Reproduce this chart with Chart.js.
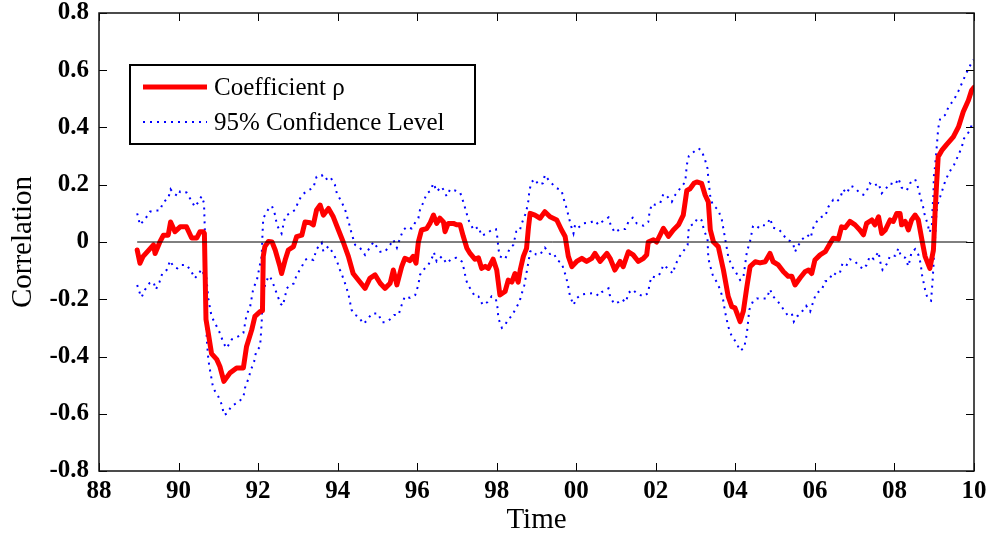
<!DOCTYPE html>
<html>
<head>
<meta charset="utf-8">
<title>Correlation</title>
<script src="https://cdn.jsdelivr.net/npm/chart.js@4.4.0/dist/chart.umd.min.js"></script>
<style>
  body { margin: 0; background: #fff; }
  canvas { display: block; }
</style>
</head>
<body>
<canvas id="myChart" width="992" height="540"></canvas>
<script>
// tick labels
var xTickLabels = ['88', '90', '92', '94', '96', '98', '00', '02', '04', '06', '08', '10'];
var yTickLabels = ['-0.8', '-0.6', '-0.4', '-0.2', '0', '0.2', '0.4', '0.6', '0.8'];

// coefficient rho (x = year, 88 = 1988)
var rhoX = [88.96, 89.03, 89.11, 89.24, 89.37, 89.41, 89.53, 89.62, 89.74, 89.80, 89.91, 90.04, 90.20, 90.33, 90.46, 90.54, 90.62, 90.65, 90.69, 90.75,
    90.83, 90.96, 91.04, 91.14, 91.29, 91.46, 91.63, 91.71, 91.84, 91.92, 92.05, 92.11, 92.13, 92.17, 92.26, 92.35, 92.43, 92.55, 92.59, 92.68,
    92.76, 92.89, 92.97, 93.10, 93.18, 93.31, 93.39, 93.47, 93.56, 93.64, 93.77, 93.89, 94.02, 94.14, 94.27, 94.39, 94.52, 94.69, 94.81, 94.94,
    95.07, 95.19, 95.32, 95.40, 95.49, 95.61, 95.69, 95.82, 95.90, 95.97, 96.03, 96.11, 96.24, 96.32, 96.41, 96.49, 96.57, 96.66, 96.70, 96.78,
    96.91, 96.99, 97.08, 97.16, 97.25, 97.33, 97.45, 97.54, 97.62, 97.71, 97.79, 97.91, 98.00, 98.08, 98.21, 98.29, 98.38, 98.46, 98.54, 98.59,
    98.67, 98.75, 98.80, 98.84, 98.96, 99.09, 99.21, 99.34, 99.51, 99.63, 99.72, 99.80, 99.89, 100.01, 100.14, 100.26, 100.39, 100.47, 100.60, 100.77,
    100.85, 100.97, 101.10, 101.18, 101.31, 101.43, 101.56, 101.69, 101.77, 101.81, 101.94, 102.02, 102.11, 102.19, 102.32, 102.44, 102.57, 102.69, 102.78, 102.86,
    102.96, 103.03, 103.15, 103.24, 103.32, 103.37, 103.45, 103.57, 103.70, 103.82, 103.91, 103.99, 104.12, 104.20, 104.29, 104.37, 104.50, 104.62, 104.75, 104.87,
    104.95, 105.08, 105.21, 105.33, 105.42, 105.50, 105.63, 105.75, 105.84, 105.92, 106.00, 106.13, 106.26, 106.38, 106.46, 106.59, 106.67, 106.76, 106.88, 107.01,
    107.13, 107.22, 107.30, 107.43, 107.51, 107.60, 107.68, 107.77, 107.89, 107.97, 108.06, 108.14, 108.18, 108.27, 108.35, 108.43, 108.52, 108.60, 108.69, 108.77,
    108.89, 108.98, 109.02, 109.06, 109.10, 109.19, 109.31, 109.48, 109.61, 109.73, 109.86, 109.94, 110.00];
var rhoY = [-0.028, -0.074, -0.05, -0.03, -0.01, -0.04, 0.0, 0.024, 0.024, 0.07, 0.036, 0.053, 0.053, 0.014, 0.014, 0.036, 0.036, 0.03, -0.27, -0.32,
    -0.39, -0.41, -0.435, -0.487, -0.458, -0.44, -0.44, -0.365, -0.307, -0.26, -0.243, -0.24, -0.05, -0.016, 0.002, 0.0, -0.028, -0.086, -0.11, -0.063,
    -0.028, -0.016, 0.019, 0.024, 0.07, 0.067, 0.06, 0.112, 0.129, 0.094, 0.117, 0.088, 0.042, 0.0, -0.05, -0.11, -0.133, -0.162, -0.127, -0.115,
    -0.144, -0.162, -0.144, -0.098, -0.15, -0.086, -0.057, -0.065, -0.05, -0.074, 0.0, 0.042, 0.047, 0.065, 0.094, 0.065, 0.083, 0.07, 0.036, 0.065,
    0.065, 0.06, 0.06, 0.019, -0.022, -0.04, -0.06, -0.055, -0.092, -0.085, -0.092, -0.06, -0.098, -0.185, -0.173, -0.133, -0.14, -0.11, -0.14, -0.098,
    -0.05, -0.022, 0.053, 0.1, 0.094, 0.083, 0.106, 0.088, 0.077, 0.042, 0.019, -0.05, -0.086, -0.068, -0.057, -0.068, -0.057, -0.04, -0.068, -0.04,
    -0.057, -0.098, -0.068, -0.086, -0.034, -0.045, -0.068, -0.057, -0.045, 0.0, 0.008, 0.0, 0.025, 0.048, 0.02, 0.042, 0.06, 0.094, 0.18, 0.186,
    0.205, 0.21, 0.205, 0.164, 0.14, 0.042, 0.0, -0.016, -0.098, -0.19, -0.226, -0.23, -0.278, -0.242, -0.156, -0.086, -0.069, -0.073, -0.069, -0.04,
    -0.069, -0.08, -0.104, -0.12, -0.12, -0.15, -0.125, -0.104, -0.098, -0.11, -0.063, -0.045, -0.034, -0.005, 0.013, 0.01, 0.053, 0.05, 0.072, 0.06,
    0.042, 0.025, 0.065, 0.077, 0.06, 0.088, 0.03, 0.042, 0.077, 0.072, 0.1, 0.1, 0.06, 0.072, 0.042, 0.077, 0.094, 0.077, 0.008, -0.05,
    -0.092, -0.028, 0.1, 0.205, 0.298, 0.32, 0.34, 0.367, 0.402, 0.455, 0.495, 0.53, 0.54];

// upper 95% confidence bound
var upX = [88.96, 89.03, 89.16, 89.28, 89.41, 89.53, 89.62, 89.74, 89.80, 89.87, 89.99, 90.04, 90.20, 90.29, 90.41, 90.50, 90.58, 90.64, 90.67, 90.69,
    90.75, 90.83, 90.96, 91.04, 91.13, 91.21, 91.34, 91.50, 91.63, 91.71, 91.80, 91.88, 91.97, 92.09, 92.11, 92.13, 92.22, 92.30, 92.35, 92.43,
    92.47, 92.59, 92.68, 92.80, 92.93, 93.01, 93.10, 93.22, 93.31, 93.39, 93.47, 93.60, 93.68, 93.81, 93.93, 93.98, 94.10, 94.19, 94.31, 94.35,
    94.44, 94.56, 94.69, 94.77, 94.90, 95.07, 95.19, 95.32, 95.40, 95.49, 95.57, 95.65, 95.74, 95.86, 95.95, 96.03, 96.07, 96.16, 96.24, 96.32,
    96.41, 96.49, 96.62, 96.74, 96.83, 96.95, 97.08, 97.16, 97.22, 97.29, 97.42, 97.54, 97.62, 97.75, 97.87, 97.98, 98.02, 98.04, 98.08, 98.21,
    98.33, 98.42, 98.49, 98.57, 98.63, 98.71, 98.75, 98.80, 98.82, 98.88, 98.96, 99.05, 99.16, 99.21, 99.34, 99.51, 99.63, 99.68, 99.74, 99.80,
    99.86, 99.93, 99.97, 100.05, 100.18, 100.35, 100.47, 100.56, 100.64, 100.81, 100.87, 100.97, 101.10, 101.23, 101.31, 101.42, 101.52, 101.69, 101.81, 101.84,
    101.90, 101.98, 102.11, 102.19, 102.28, 102.40, 102.49, 102.61, 102.74, 102.78, 102.83, 102.91, 103.07, 103.15, 103.24, 103.30, 103.32, 103.37, 103.43, 103.57,
    103.66, 103.74, 103.82, 103.91, 103.99, 104.12, 104.20, 104.29, 104.37, 104.44, 104.54, 104.62, 104.75, 104.83, 104.87, 104.95, 105.08, 105.17, 105.29, 105.38,
    105.46, 105.50, 105.55, 105.67, 105.81, 105.89, 105.96, 106.06, 106.17, 106.26, 106.34, 106.46, 106.54, 106.63, 106.71, 106.80, 106.90, 107.01, 107.13, 107.22,
    107.30, 107.38, 107.47, 107.60, 107.68, 107.77, 107.89, 108.02, 108.10, 108.18, 108.31, 108.39, 108.52, 108.60, 108.66, 108.72, 108.77, 108.83, 108.88, 108.94,
    108.96, 108.98, 108.99, 109.02, 109.06, 109.10, 109.15, 109.27, 109.36, 109.50, 109.61, 109.71, 109.82, 109.92, 109.99];
var upY = [0.1, 0.06, 0.08, 0.106, 0.11, 0.11, 0.14, 0.152, 0.184, 0.17, 0.16, 0.177, 0.173, 0.152, 0.123, 0.14, 0.16, 0.136, 0.0, -0.11,
    -0.2, -0.26, -0.295, -0.318, -0.353, -0.371, -0.34, -0.33, -0.318, -0.255, -0.226, -0.162, -0.133, -0.05, 0.025, 0.083, 0.106, 0.123, 0.125, 0.094,
    0.06, 0.03, 0.09, 0.1, 0.112, 0.14, 0.164, 0.177, 0.184, 0.19, 0.228, 0.234, 0.217, 0.228, 0.2, 0.17, 0.14, 0.112, 0.053, 0.03,
    -0.01, -0.02, -0.045, -0.028, 0.0, -0.034, -0.034, -0.01, 0.008, -0.02, 0.014, 0.042, 0.053, 0.047, 0.068, 0.083, 0.112, 0.14, 0.17, 0.177,
    0.205, 0.177, 0.193, 0.16, 0.184, 0.18, 0.173, 0.14, 0.112, 0.077, 0.042, 0.053, 0.022, 0.03, 0.042, 0.045, 0.013, -0.022, -0.05, -0.06,
    -0.022, -0.01, 0.036, 0.036, 0.065, 0.094, 0.112, 0.147, 0.18, 0.21, 0.22, 0.2, 0.205, 0.234, 0.21, 0.188, 0.18, 0.152, 0.126, 0.094,
    0.06, 0.03, 0.06, 0.05, 0.065, 0.068, 0.075, 0.06, 0.07, 0.086, 0.057, 0.033, 0.045, 0.045, 0.07, 0.085, 0.065, 0.057, 0.07, 0.102,
    0.133, 0.13, 0.136, 0.168, 0.16, 0.14, 0.165, 0.187, 0.21, 0.27, 0.3, 0.31, 0.327, 0.32, 0.286, 0.257, 0.222, 0.158, 0.13, 0.112,
    0.077, 0.014, -0.05, -0.085, -0.1, -0.133, -0.125, -0.034, 0.003, 0.053, 0.045, 0.06, 0.058, 0.07, 0.083, 0.05, 0.045, 0.033, 0.008, 0.003,
    -0.01, -0.034, -0.02, 0.008, 0.025, 0.014, 0.05, 0.075, 0.088, 0.09, 0.123, 0.147, 0.14, 0.152, 0.184, 0.17, 0.196, 0.19, 0.17, 0.165,
    0.177, 0.205, 0.195, 0.205, 0.17, 0.184, 0.205, 0.2, 0.222, 0.19, 0.18, 0.205, 0.219, 0.188, 0.152, 0.123, 0.088, 0.066, 0.033, 0.055,
    0.123, 0.164, 0.228, 0.263, 0.327, 0.397, 0.432, 0.443, 0.472, 0.498, 0.528, 0.559, 0.594, 0.621, 0.637];

// lower 95% confidence bound
var loX = [88.96, 89.03, 89.07, 89.16, 89.27, 89.37, 89.43, 89.52, 89.59, 89.70, 89.79, 89.87, 89.97, 90.08, 90.20, 90.31, 90.41, 90.51, 90.58, 90.64,
    90.67, 90.69, 90.71, 90.75, 90.79, 90.87, 91.00, 91.09, 91.14, 91.21, 91.34, 91.50, 91.63, 91.67, 91.75, 91.82, 91.90, 91.95, 92.05, 92.09,
    92.11, 92.17, 92.26, 92.30, 92.40, 92.48, 92.57, 92.62, 92.68, 92.72, 92.82, 92.90, 92.97, 93.10, 93.18, 93.26, 93.39, 93.47, 93.60, 93.64,
    93.77, 93.89, 93.98, 94.06, 94.16, 94.27, 94.35, 94.44, 94.52, 94.65, 94.73, 94.86, 95.02, 95.11, 95.22, 95.32, 95.42, 95.53, 95.61, 95.69,
    95.82, 95.95, 96.03, 96.07, 96.14, 96.20, 96.28, 96.37, 96.42, 96.49, 96.62, 96.74, 96.87, 96.99, 97.12, 97.18, 97.23, 97.29, 97.37, 97.45,
    97.54, 97.65, 97.77, 97.87, 97.98, 98.02, 98.04, 98.13, 98.21, 98.29, 98.38, 98.46, 98.57, 98.63, 98.69, 98.74, 98.80, 98.84, 98.91, 98.99,
    99.09, 99.21, 99.34, 99.44, 99.51, 99.63, 99.69, 99.74, 99.80, 99.84, 99.93, 100.01, 100.14, 100.31, 100.47, 100.56, 100.64, 100.81, 100.85, 100.95,
    101.06, 101.14, 101.25, 101.31, 101.42, 101.52, 101.69, 101.81, 101.84, 101.90, 101.99, 102.11, 102.19, 102.28, 102.43, 102.49, 102.60, 102.69, 102.80, 102.83,
    102.91, 102.95, 103.05, 103.15, 103.21, 103.30, 103.32, 103.37, 103.43, 103.52, 103.62, 103.69, 103.74, 103.82, 103.91, 104.01, 104.12, 104.22, 104.27, 104.30,
    104.35, 104.44, 104.54, 104.66, 104.79, 104.87, 104.95, 105.08, 105.21, 105.31, 105.42, 105.47, 105.55, 105.64, 105.78, 105.88, 105.96, 106.03, 106.17, 106.26,
    106.34, 106.46, 106.54, 106.63, 106.70, 106.80, 106.88, 107.01, 107.10, 107.22, 107.30, 107.38, 107.48, 107.60, 107.64, 107.70, 107.81, 107.89, 108.02, 108.10,
    108.16, 108.27, 108.35, 108.43, 108.52, 108.60, 108.66, 108.69, 108.75, 108.79, 108.85, 108.92, 108.94, 108.96, 108.98, 109.00, 109.03, 109.05, 109.08, 109.15,
    109.27, 109.37, 109.50, 109.59, 109.69, 109.75, 109.89, 109.97];
var loY = [-0.15, -0.18, -0.193, -0.166, -0.144, -0.14, -0.166, -0.14, -0.11, -0.098, -0.065, -0.086, -0.092, -0.08, -0.08, -0.1, -0.127, -0.11, -0.095, -0.115,
    -0.173, -0.26, -0.342, -0.412, -0.447, -0.51, -0.54, -0.569, -0.604, -0.6, -0.572, -0.56, -0.542, -0.51, -0.48, -0.447, -0.418, -0.383, -0.365, -0.284,
    -0.2, -0.153, -0.12, -0.12, -0.153, -0.185, -0.216, -0.223, -0.19, -0.162, -0.15, -0.145, -0.115, -0.086, -0.063, -0.057, -0.063, -0.025, -0.003, -0.033,
    -0.015, -0.04, -0.066, -0.098, -0.133, -0.181, -0.237, -0.255, -0.26, -0.286, -0.275, -0.25, -0.25, -0.28, -0.28, -0.27, -0.255, -0.255, -0.22, -0.19,
    -0.195, -0.185, -0.15, -0.115, -0.098, -0.092, -0.08, -0.057, -0.036, -0.068, -0.05, -0.075, -0.058, -0.055, -0.068, -0.096, -0.133, -0.153, -0.17, -0.19,
    -0.19, -0.22, -0.21, -0.19, -0.2, -0.23, -0.266, -0.3, -0.29, -0.27, -0.258, -0.237, -0.21, -0.18, -0.153, -0.115, -0.068, -0.033, -0.03, -0.044,
    -0.044, -0.02, -0.042, -0.04, -0.063, -0.073, -0.098, -0.12, -0.156, -0.188, -0.22, -0.196, -0.183, -0.18, -0.178, -0.188, -0.175, -0.162, -0.19, -0.216,
    -0.21, -0.2, -0.21, -0.178, -0.166, -0.18, -0.19, -0.178, -0.146, -0.12, -0.124, -0.11, -0.08, -0.09, -0.11, -0.08, -0.05, -0.033, -0.01, 0.053,
    0.06, 0.06, 0.083, 0.076, 0.042, 0.01, -0.057, -0.085, -0.115, -0.137, -0.167, -0.2, -0.243, -0.295, -0.33, -0.348, -0.38, -0.37, -0.335, -0.305,
    -0.237, -0.208, -0.197, -0.197, -0.197, -0.165, -0.19, -0.21, -0.235, -0.255, -0.25, -0.278, -0.26, -0.25, -0.223, -0.243, -0.208, -0.18, -0.167, -0.137,
    -0.135, -0.107, -0.115, -0.107, -0.072, -0.08, -0.06, -0.068, -0.083, -0.095, -0.08, -0.05, -0.06, -0.034, -0.068, -0.097, -0.076, -0.048, -0.048, -0.022,
    -0.048, -0.055, -0.085, -0.036, -0.025, -0.044, -0.076, -0.113, -0.153, -0.18, -0.2, -0.205, -0.17, -0.133, -0.085, -0.028, 0.03, 0.088, 0.13, 0.158,
    0.21, 0.242, 0.27, 0.298, 0.33, 0.362, 0.388, 0.42];

// zero reference line
var zeroX = [88.96, 109.83];
var zeroY = [0, 0];

var legendLabels = ['Coefficient \u03c1', '95% Confidence Level'];

var fonte = "'Liberation Serif', 'Times New Roman', serif";

function pontos(xs, ys) {
    return xs.map(function(x, i) { return { x: x, y: ys[i] }; });
}

// box, inside ticks on all four sides
var moldura = {
    id: 'moldura',
    afterDatasetsDraw: function(chart) {
        var ctx = chart.ctx;
        var a = chart.chartArea;
        var sx = chart.scales.x;
        var sy = chart.scales.y;
        var tl = 8;
        ctx.save();
        ctx.strokeStyle = '#000';
        ctx.lineWidth = 1;
        ctx.beginPath();
        sx.ticks.forEach(function(t) {
            var px = Math.round(sx.getPixelForValue(t.value)) + 0.5;
            ctx.moveTo(px, a.bottom); ctx.lineTo(px, a.bottom - tl);
            ctx.moveTo(px, a.top); ctx.lineTo(px, a.top + tl);
        });
        sy.ticks.forEach(function(t) {
            var py = Math.round(sy.getPixelForValue(t.value)) + 0.5;
            ctx.moveTo(a.left, py); ctx.lineTo(a.left + tl, py);
            ctx.moveTo(a.right, py); ctx.lineTo(a.right - tl, py);
        });
        ctx.stroke();
        ctx.lineWidth = 1.5;
        ctx.strokeStyle = '#111';
        ctx.strokeRect(a.left, a.top, a.right - a.left, a.bottom - a.top);
        ctx.restore();
    }
};

// MATLAB-like legend box
var legenda = {
    id: 'legenda',
    afterDraw: function(chart) {
        var ctx = chart.ctx;
        var a = chart.chartArea;
        var bx = a.left + 31, by = a.top + 52, bw = 345, bh = 79;
        var ds = chart.data.datasets;
        ctx.save();
        ctx.fillStyle = '#fff';
        ctx.fillRect(bx, by, bw, bh);
        ctx.strokeStyle = '#000';
        ctx.lineWidth = 2;
        ctx.strokeRect(bx, by, bw, bh);

        var linhas = [ds[1], ds[2]];
        var ys = [by + 22, by + 57];
        linhas.forEach(function(d, i) {
            ctx.beginPath();
            ctx.strokeStyle = d.borderColor;
            ctx.lineWidth = d.borderWidth;
            ctx.setLineDash(d.borderDash || []);
            ctx.lineCap = 'butt';
            ctx.moveTo(bx + 13, ys[i]);
            ctx.lineTo(bx + 77, ys[i]);
            ctx.stroke();
            ctx.setLineDash([]);
            ctx.fillStyle = '#000';
            ctx.font = '25px ' + fonte;
            ctx.textBaseline = 'middle';
            ctx.textAlign = 'left';
            ctx.fillText(legendLabels[i], bx + 84, ys[i] + 1);
        });
        ctx.restore();
    }
};

var ctx = document.getElementById('myChart').getContext('2d');
var chart = new Chart(ctx, {
    type: 'scatter',
    data: {
        datasets: [{
            label: 'zero',
            data: pontos(zeroX, zeroY),
            showLine: true,
            borderColor: '#000',
            borderWidth: 1,
            pointRadius: 0
        }, {
            label: legendLabels[0],
            data: pontos(rhoX, rhoY),
            showLine: true,
            borderColor: '#ff0000',
            borderWidth: 5,
            borderJoinStyle: 'round',
            borderCapStyle: 'round',
            pointRadius: 0
        }, {
            label: legendLabels[1],
            data: pontos(upX, upY),
            showLine: true,
            borderColor: '#0000ff',
            borderWidth: 2,
            borderDash: [2, 5],
            pointRadius: 0
        }, {
            label: 'lower',
            data: pontos(loX, loY),
            showLine: true,
            borderColor: '#0000ff',
            borderWidth: 2,
            borderDash: [2, 5],
            pointRadius: 0
        }]
    },
    options: {
        responsive: false,
        animation: false,
        layout: { padding: { top: 13, right: 18, left: 0, bottom: 0 } },
        plugins: {
            legend: { display: false },
            tooltip: { enabled: false }
        },
        scales: {
            x: {
                type: 'linear',
                min: 88,
                max: 110,
                grid: { display: false, drawTicks: false },
                border: { display: false },
                ticks: {
                    stepSize: 2,
                    padding: 6,
                    color: '#000',
                    font: { family: fonte, size: 25, weight: 'bold' },
                    maxRotation: 0,
                    callback: function(v, i) { return xTickLabels[i]; }
                },
                title: {
                    display: true,
                    text: 'Time',
                    color: '#000',
                    font: { family: fonte, size: 29 },
                    padding: { top: 0, bottom: 2 }
                },
                afterFit: function(scale) {
                    scale.height = 69;
                    scale.paddingLeft = 0;
                    scale.paddingRight = 0;
                }
            },
            y: {
                min: -0.8,
                max: 0.8,
                grid: { display: false, drawTicks: false },
                border: { display: false },
                ticks: {
                    stepSize: 0.2,
                    padding: 10,
                    color: '#000',
                    font: { family: fonte, size: 25, weight: 'bold' },
                    callback: function(v, i) { return yTickLabels[i]; }
                },
                title: {
                    display: true,
                    text: 'Correlation',
                    color: '#000',
                    font: { family: fonte, size: 29 },
                    padding: { top: 6, bottom: 0 }
                },
                afterFit: function(scale) {
                    scale.width = 99;
                    scale.paddingTop = 0;
                    scale.paddingBottom = 0;
                }
            }
        }
    },
    plugins: [moldura, legenda]
});
</script>
</body>
</html>
